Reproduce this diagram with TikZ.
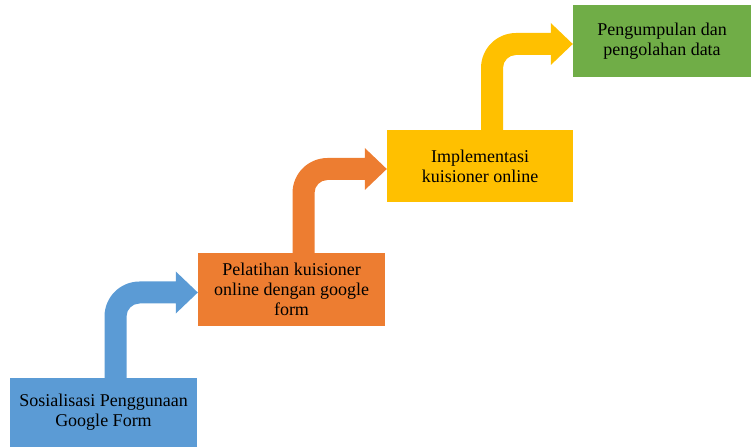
\documentclass[tikz,border=0pt]{standalone}
\usepackage{fontspec}
\setmainfont{Liberation Serif}
\usetikzlibrary{calc}
\definecolor{cblue}{HTML}{5B9BD5}
\definecolor{corange}{HTML}{ED7D31}
\definecolor{cyellow}{HTML}{FFC000}
\definecolor{cgreen}{HTML}{70AD47}
\tikzset{
  stepbox/.style={rectangle, inner sep=0pt, align=center, text=black,
    font=\fontsize{18}{20}\selectfont},
}
% bent arrow from (#2 north shifted) to (#3 west)
\newcommand{\bentarrow}[3]{%
  \fill[#1] let \p1=($(#2.north)+(12,0)$), \p2=($(#3.west)+(0,-3)$) in
    (\x1-11pt,\y1) -- (\x1-11pt,\y2+11pt-35pt)
    arc[start angle=180,end angle=90,radius=35pt]
    -- (\x2-22pt,\y2+11pt) -- (\x2-22pt,\y2+21pt) -- (\x2,\y2)
    -- (\x2-22pt,\y2-21pt) -- (\x2-22pt,\y2-11pt)
    -- (\x1+11pt+13pt,\y2-11pt)
    arc[start angle=90,end angle=180,radius=13pt]
    -- (\x1+11pt,\y1) -- cycle;
}
\begin{document}
\begin{tikzpicture}[x=1pt,y=1pt]
\useasboundingbox (0,0) rectangle (751,447);
\node[stepbox, fill=cblue, minimum width=187pt, minimum height=69pt] (b1) at (103.5,34.5) {Sosialisasi Penggunaan\\Google Form};
\node[stepbox, fill=corange, minimum width=187pt, minimum height=73pt] (b2) at (291.5,157.5) {Pelatihan kuisioner\\online dengan google\\form};
\node[stepbox, fill=cyellow, minimum width=186pt, minimum height=72pt] (b3) at (480,281) {Implementasi\\kuisioner online};
\node[stepbox, fill=cgreen, minimum width=178pt, minimum height=72pt] (b4) at (662,406) {Pengumpulan dan\\pengolahan data};
\bentarrow{cblue}{b1}{b2}
\bentarrow{corange}{b2}{b3}
\bentarrow{cyellow}{b3}{b4}
\end{tikzpicture}
\end{document}
